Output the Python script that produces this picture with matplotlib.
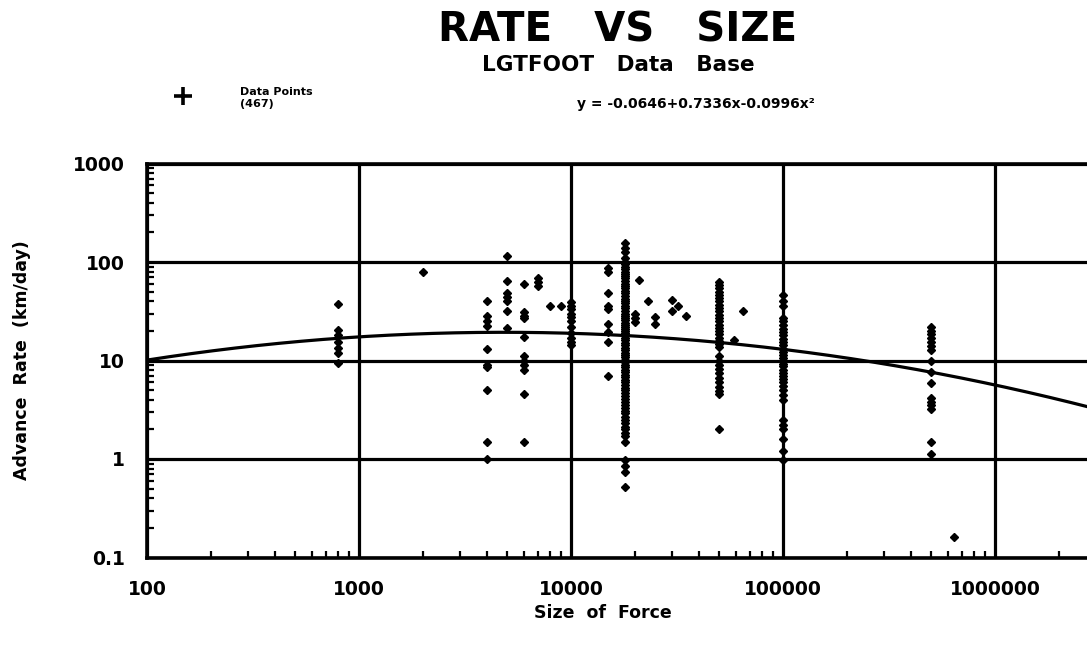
import numpy as np
import matplotlib
matplotlib.use("Agg")
import matplotlib.pyplot as plt
from matplotlib.ticker import FixedLocator, FixedFormatter, LogLocator, NullFormatter
from matplotlib.lines import Line2D

plt.rcParams['font.family'] = ['DejaVu Sans']

# ---- data ----
sizes = [800, 2000, 4000, 5000, 6000, 7000, 8000, 9000, 10000, 15000, 18000,
         20000, 21000, 23000, 25000, 30000, 32000, 35000, 50000, 59000, 65000,
         100000, 500000, 640000]
rates = [
    [37.5, 20.5, 18, 15.5, 13.5, 12, 9.4],                                   # 800
    [79],                                                                      # 2000
    [40, 28, 25, 22.5, 13, 9, 8.5, 5, 1.5, 1.0],                               # 4000
    [115, 64, 49, 44, 40, 32, 21.5],                                           # 5000
    [60, 31, 28, 27, 17.5, 11, 10, 9, 8, 4.6, 1.5],                            # 6000
    [69, 62, 57],                                                              # 7000
    [35.5],                                                                    # 8000
    [35.5],                                                                    # 9000
    [39.5, 36, 33, 30, 27.5, 25, 22, 19, 17, 15.5, 14.5],                      # 10000
    [86, 80, 48, 36, 33, 23.5, 19.5, 15.5, 7],                                 # 15000
    [156, 140, 125, 110, 100, 95, 90, 85, 80, 76, 72, 68, 64, 60, 57, 54, 51,
     48, 45, 42, 40, 38, 36, 34, 32, 30, 28.5, 27, 25.5, 24, 23, 22, 21, 20,
     19, 18, 17, 16, 15, 14.2, 13.5, 12.8, 12, 11.4, 10.8, 10.2, 9.6, 9.1,
     8.6, 8.1, 7.6, 7.2, 6.8, 6.4, 6, 5.6, 5.3, 5, 4.7, 4.4, 4.1, 3.8, 3.5,
     3.3, 3.1, 2.9, 2.7, 2.5, 2.3, 2.1, 2.0, 1.85, 1.7, 1.5, 0.97, 0.85,
     0.74, 0.52],                                                              # 18000
    [30, 27, 24.5],                                                            # 20000
    [66],                                                                      # 21000
    [40],                                                                      # 23000
    [27.5, 23.5],                                                              # 25000
    [41, 32],                                                                  # 30000
    [35.5],                                                                    # 32000
    [28],                                                                      # 35000
    [63, 58, 54, 50, 46, 43, 40, 37, 34, 31.5, 29, 27, 25, 23, 21.5, 20, 18.5,
     17, 15.8, 14.8, 13.8, 11, 10, 9, 8.2, 7.4, 6.7, 6, 5.4, 4.9, 4.6, 2.0],   # 50000
    [16],                                                                      # 59000
    [32],                                                                      # 65000
    [46, 40, 36, 27, 25, 23, 21, 19.5, 18, 16.5, 15.3, 14.2, 13.2, 12.3, 11.5,
     10.7, 10, 9.3, 8.7, 8.1, 7.5, 7, 6.5, 6, 5.5, 5, 4.5, 4, 2.5, 2.2, 2.0,
     1.6, 1.2, 0.98],                                                          # 100000
    [22, 20, 18.5, 17, 15.5, 14, 12.8, 10, 7.6, 5.9, 4.2, 3.8, 3.5, 3.2,
     1.48, 1.12],                                                              # 500000
    [0.16],                                                                    # 640000
]

# fitted curve coefficients (log10 rate vs log10 size)
coef = [-0.0646, 0.7336, -0.0996]

xticks = [100, 1000, 10000, 100000, 1000000]
xtick_labels = ["100", "1000", "10000", "100000", "1000000"]
yticks = [0.1, 1, 10, 100, 1000]
ytick_labels = ["0.1", "1", "10", "100", "1000"]

title = "RATE   VS   SIZE"
subtitle = "LGTFOOT   Data   Base"
equation = "y = -0.0646+0.7336x-0.0996x\u00b2"

# ---- figure ----
fig = plt.figure(figsize=(10.87, 6.5), dpi=100)
ax = fig.add_axes([147/1087, 1 - 557.5/650, 1 - 147/1087, (557.5 - 163.5)/650])
ax.set_xscale('log')
ax.set_yscale('log')
xmax = 10 ** (3 + (1087 - 359) / 212)
ax.set_xlim(100, xmax)
ax.set_ylim(0.1, 1000)

# grid
ax.grid(True, which='major', color='black', linewidth=2.3)
ax.set_axisbelow(True)

# points
xs, ys = [], []
for s, rr in zip(sizes, rates):
    xs.extend([s] * len(rr))
    ys.extend(rr)
ax.plot(xs, ys, linestyle='none', marker='D', markersize=4.4,
        color='black', zorder=3)

# fitted curve
lx = np.linspace(2, np.log10(xmax), 300)
ly = coef[0] + coef[1] * lx + coef[2] * lx ** 2
ax.plot(10 ** lx, 10 ** ly, color='black', linewidth=2.3, zorder=3)

# spines / ticks
for side in ['left', 'bottom', 'top']:
    ax.spines[side].set_linewidth(2.6)
ax.spines['right'].set_visible(False)

ax.xaxis.set_major_locator(FixedLocator(xticks))
ax.xaxis.set_major_formatter(FixedFormatter(xtick_labels))
ax.yaxis.set_major_locator(FixedLocator(yticks))
ax.yaxis.set_major_formatter(FixedFormatter(ytick_labels))
ax.xaxis.set_minor_locator(LogLocator(base=10, subs=np.arange(2, 10), numticks=20))
ax.yaxis.set_minor_locator(LogLocator(base=10, subs=np.arange(2, 10), numticks=20))
ax.xaxis.set_minor_formatter(NullFormatter())
ax.yaxis.set_minor_formatter(NullFormatter())
ax.tick_params(which='major', direction='in', length=0, width=2, pad=16,
               labelsize=13.5)
ax.tick_params(which='minor', direction='in', length=5, width=1.6)
for lab in ax.get_xticklabels() + ax.get_yticklabels():
    lab.set_fontweight('bold')

# titles and labels
fig.text(618/1087, 1 - 30/650, title, ha='center', va='center',
         fontsize=29, fontweight='bold')
fig.text(618/1087, 1 - 65/650, subtitle, ha='center', va='center',
         fontsize=15.5, fontweight='bold')
fig.text(603/1087, 1 - 613/650, "Size  of  Force", ha='center', va='center',
         fontsize=12.5, fontweight='bold')
fig.text(22/1087, 1 - 360/650, "Advance  Rate  (km/day)", ha='center',
         va='center', rotation=90, fontsize=12.5, fontweight='bold')

# legend
fig.add_artist(Line2D([183/1087], [1 - 96/650], marker='+', markersize=13,
                      markeredgewidth=2.6, color='black', linestyle='none',
                      transform=fig.transFigure))
fig.text(240/1087, 1 - 92/650, "Data Points", ha='left', va='center',
         fontsize=8, fontweight='bold')
fig.text(240/1087, 1 - 104/650, "(467)", ha='left', va='center',
         fontsize=8, fontweight='bold')
fig.text(577/1087, 1 - 104/650, equation, ha='left', va='center',
         fontsize=10, fontweight='bold')

fig.savefig("out.png", dpi=100)
